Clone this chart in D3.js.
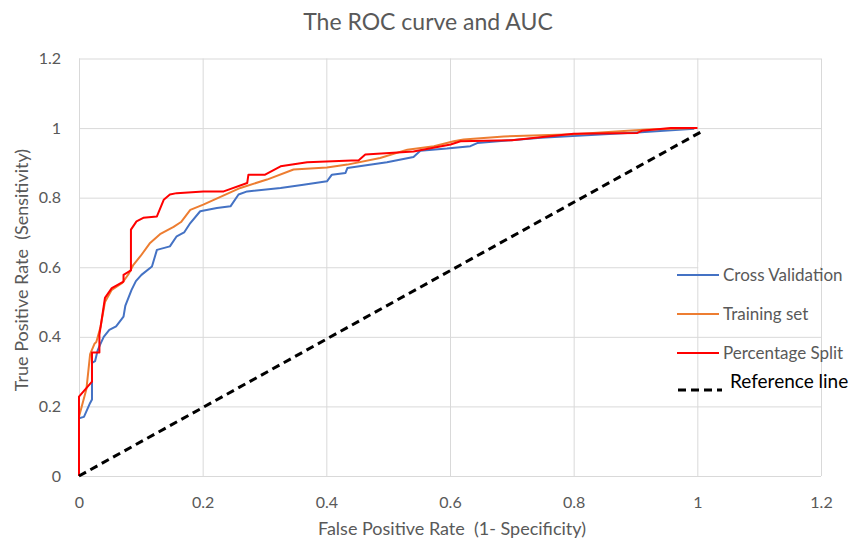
<!DOCTYPE html>
<html>
<head>
<meta charset="utf-8">
<script src="https://cdn.jsdelivr.net/npm/d3@7"></script>
<style>
 body { margin: 0; background: #fff; }
 text { font-family: Lato, "Open Sans", sans-serif; white-space: pre; }
</style>
</head>
<body>
<svg width="852" height="544"></svg>
<script>
// tick labels
var ticks = [0, 0.2, 0.4, 0.6, 0.8, 1, 1.2];

// series values: [false positive rate, true positive rate]
var crossValidation = [[0,0.166],[0.008,0.17],[0.013,0.19],[0.018,0.21],[0.021,0.22],[0.021,0.325],[0.026,0.33],
 [0.03,0.36],[0.034,0.377],[0.04,0.40],[0.049,0.42],[0.06,0.43],[0.072,0.458],[0.075,0.49],[0.085,0.535],
 [0.092,0.56],[0.101,0.578],[0.118,0.602],[0.126,0.65],[0.147,0.66],[0.158,0.689],[0.170,0.70],[0.18,0.727],
 [0.196,0.761],[0.223,0.77],[0.245,0.775],[0.258,0.809],[0.272,0.818],[0.326,0.828],[0.363,0.837],[0.401,0.847],
 [0.409,0.866],[0.431,0.871],[0.434,0.885],[0.498,0.902],[0.541,0.917],[0.552,0.935],[0.595,0.941],[0.633,0.948],
 [0.644,0.957],[0.747,0.972],[0.909,0.988],[0.995,0.998]];

var trainingSet = [[0,0.17],[0.012,0.25],[0.015,0.30],[0.018,0.35],[0.025,0.38],[0.028,0.385],[0.035,0.43],
 [0.042,0.50],[0.053,0.535],[0.07,0.555],[0.08,0.58],[0.088,0.607],[0.099,0.631],[0.115,0.67],[0.131,0.695],
 [0.153,0.716],[0.165,0.73],[0.18,0.765],[0.201,0.78],[0.261,0.828],[0.304,0.852],[0.347,0.881],[0.401,0.887],
 [0.434,0.895],[0.487,0.914],[0.531,0.938],[0.574,0.948],[0.606,0.962],[0.622,0.967],[0.687,0.976],[0.80,0.982],
 [0.919,0.996],[1.0,1.0]];

var percentageSplit = [[0,0],[0,0.228],[0.021,0.271],[0.021,0.355],[0.033,0.355],[0.033,0.406],[0.042,0.512],
 [0.053,0.54],[0.072,0.559],[0.072,0.578],[0.084,0.591],[0.084,0.708],[0.093,0.732],[0.104,0.742],[0.126,0.746],
 [0.137,0.794],[0.147,0.809],[0.158,0.813],[0.201,0.818],[0.234,0.818],[0.272,0.842],[0.274,0.866],[0.301,0.866],
 [0.326,0.89],[0.369,0.902],[0.441,0.907],[0.452,0.907],[0.463,0.924],[0.541,0.933],[0.601,0.953],[0.617,0.962],
 [0.70,0.965],[0.80,0.984],[0.903,0.986],[0.91,0.992],[0.957,1.0],[1.0,1.0]];

var referenceLine = [[0,0],[1.01,0.993]];

var seriesNames = ["Cross Validation", "Training set", "Percentage Split"];
var seriesColors = ["#4472C4", "#ED7D31", "#FF0000"];

var svg = d3.select("svg"),
 width = +svg.attr("width"),
 height = +svg.attr("height");

var x = d3.scaleLinear().domain([0, 1.2]).range([79, 821]);
var y = d3.scaleLinear().domain([0, 1.2]).range([476, 58.5]);

var fmt = d3.format("~g");

// title
svg.append("text")
 .attr("x", 428)
 .attr("y", 30)
 .attr("text-anchor", "middle")
 .attr("fill", "#595959")
 .attr("font-size", 23)
 .text("The ROC curve and AUC");

// horizontal gridlines + y labels
var gy = svg.append("g")
 .attr("transform", "translate(" + x(0) + ",0)")
 .call(d3.axisLeft(y).tickValues(ticks).tickFormat(fmt).tickSize(-(x(1.2) - x(0))).tickPadding(18));
gy.select(".domain").remove();
gy.selectAll("line").attr("stroke", "#d9d9d9");
gy.selectAll("text").attr("fill", "#595959").attr("font-size", 16).attr("font-family", "Lato");

// vertical gridlines + x labels
var gx = svg.append("g")
 .attr("transform", "translate(0," + y(0) + ")")
 .call(d3.axisBottom(x).tickValues(ticks).tickFormat(fmt).tickSize(-(y(0) - y(1.2))).tickPadding(21));
gx.select(".domain").remove();
gx.selectAll("line").attr("stroke", "#d9d9d9");
gx.selectAll("text").attr("fill", "#595959").attr("font-size", 16).attr("font-family", "Lato");

// axis titles
svg.append("text")
 .attr("x", 452)
 .attr("y", 535)
 .attr("text-anchor", "middle")
 .attr("fill", "#595959")
 .attr("font-size", 18)
 .text("False Positive Rate  (1- Specificity)");

svg.append("text")
 .attr("transform", "translate(28,270) rotate(-90)")
 .attr("text-anchor", "middle")
 .attr("fill", "#595959")
 .attr("font-size", 18)
 .text("True Positive Rate  (Sensitivity)");

// curves
var line = d3.line()
 .x(function(d) { return x(d[0]); })
 .y(function(d) { return y(d[1]); });

var curves = [crossValidation, trainingSet, percentageSplit];

svg.append("g").selectAll("path")
 .data(curves)
 .enter().append("path")
 .attr("d", line)
 .attr("fill", "none")
 .attr("stroke", function(d, i) { return seriesColors[i]; })
 .attr("stroke-width", 2)
 .attr("stroke-linejoin", "round");

svg.append("path")
 .datum(referenceLine)
 .attr("d", line)
 .attr("fill", "none")
 .attr("stroke", "#000")
 .attr("stroke-width", 3)
 .attr("stroke-dasharray", "8,5");

// legend
var legend = svg.append("g").attr("class", "legend");

legend.append("rect") // legend box hides the 0.6 gridline
 .attr("x", x(1) + 1)
 .attr("y", 262)
 .attr("width", x(1.2) - x(1) - 2)
 .attr("height", 10)
 .attr("fill", "#fff");

var item = legend.selectAll("g.item")
 .data(seriesNames)
 .enter().append("g")
 .attr("class", "item")
 .attr("transform", function(d, i) { return "translate(677," + (275 + i * 39) + ")"; });

item.append("line")
 .attr("x1", 0).attr("x2", 42)
 .attr("stroke", function(d, i) { return seriesColors[i]; })
 .attr("stroke-width", 2);

item.append("text")
 .attr("x", 46)
 .attr("y", 6)
 .attr("fill", "#595959")
 .attr("font-size", 17)
 .text(function(d) { return d; });

legend.append("line")
 .attr("x1", 678).attr("x2", 722)
 .attr("y1", 390).attr("y2", 390)
 .attr("stroke", "#000")
 .attr("stroke-width", 3)
 .attr("stroke-dasharray", "8,5");

legend.append("text")
 .attr("x", 730)
 .attr("y", 388)
 .attr("fill", "#000")
 .attr("font-size", 19)
 .text("Reference line");
</script>
</body>
</html>
